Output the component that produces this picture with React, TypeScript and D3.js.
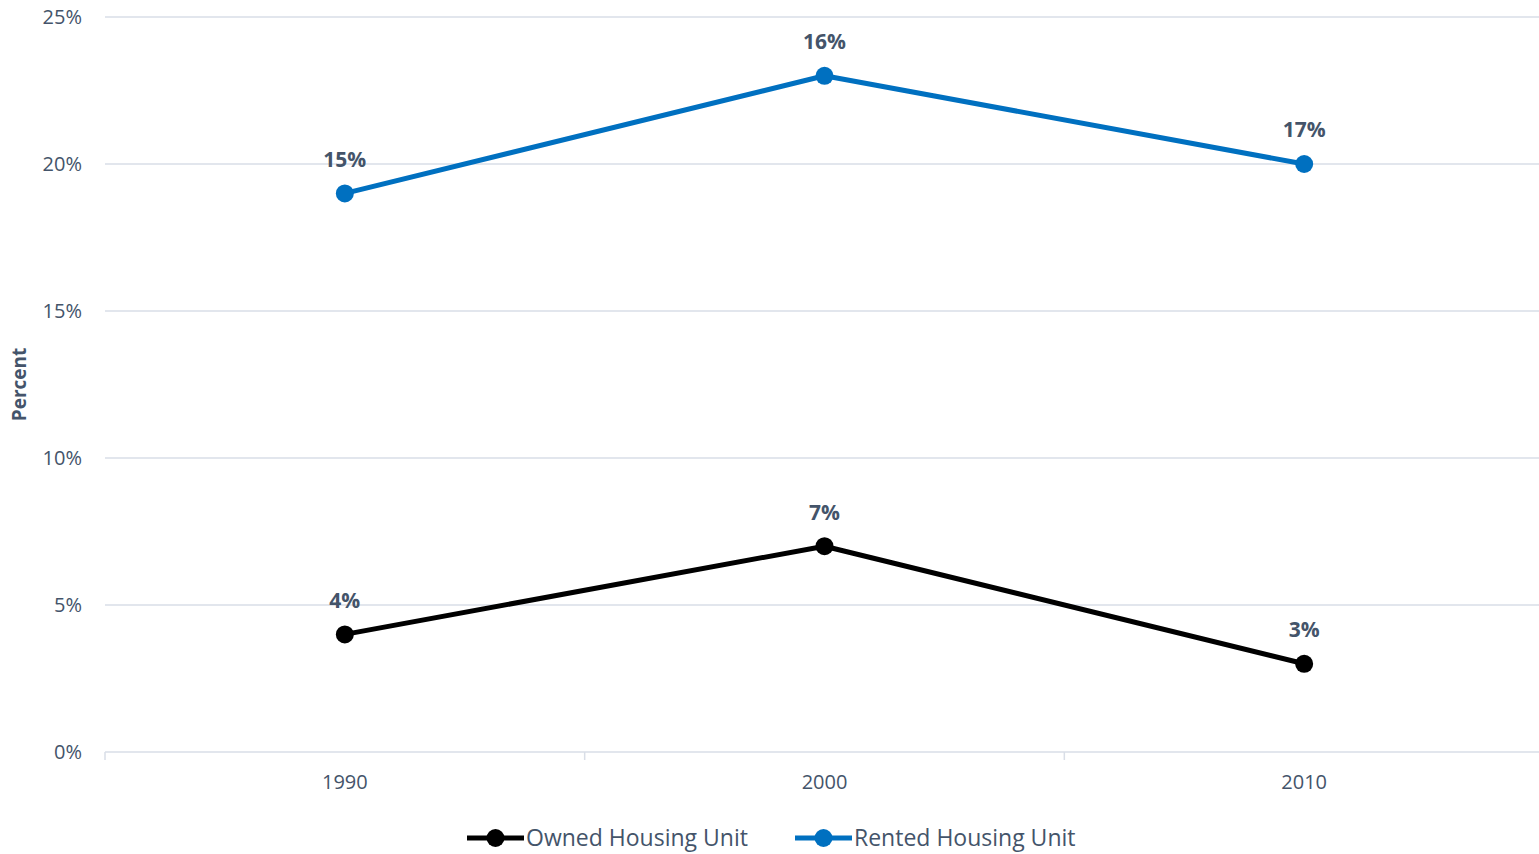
import { useEffect, useRef } from 'react'
import * as d3 from 'd3'

const years = ['1990', '2000', '2010']
const ownedValues = [4, 7, 3]
const ownedLabels = ['4%', '7%', '3%']
const rentedValues = [19, 23, 20]
const rentedLabels = ['15%', '16%', '17%']
const yTicks = [0, 5, 10, 15, 20, 25]

const TEXT = '#44546A'
const GRID = '#D9DEE7'
const FONT = '"Open Sans", "Noto Sans", sans-serif'

const series = [
  { name: 'Owned Housing Unit', values: ownedValues, labels: ownedLabels, color: '#000000' },
  { name: 'Rented Housing Unit', values: rentedValues, labels: rentedLabels, color: '#0070C0' },
]

export default function App() {
  const ref = useRef<SVGSVGElement>(null)

  useEffect(() => {
    if (!ref.current) return
    const svg = d3.select(ref.current)
    svg.selectAll('*').remove()

    const width = 1539
    const height = 854
    const margin = { top: 17, right: -5, bottom: 102, left: 105 }

    const x = d3.scaleBand<string>()
      .domain(years)
      .range([margin.left, width - margin.right])
      .padding(0)

    const y = d3.scaleLinear()
      .domain([0, 25])
      .range([height - margin.bottom, margin.top])

    // gridlines
    svg.append('g')
      .selectAll('line')
      .data(yTicks.filter(d => d > 0))
      .enter()
      .append('line')
      .attr('x1', margin.left)
      .attr('x2', width)
      .attr('y1', d => y(d))
      .attr('y2', d => y(d))
      .attr('stroke', GRID)
      .attr('stroke-width', 1.5)

    // y tick labels
    svg.append('g')
      .selectAll('text')
      .data(yTicks)
      .enter()
      .append('text')
      .attr('x', 82)
      .attr('y', d => y(d))
      .attr('dy', '0.35em')
      .attr('text-anchor', 'end')
      .attr('fill', TEXT)
      .attr('font-family', FONT)
      .attr('font-size', 20)
      .text(d => `${d}%`)

    // y axis title
    svg.append('text')
      .attr('transform', `translate(26,${(y(0) + y(25)) / 2}) rotate(-90)`)
      .attr('text-anchor', 'middle')
      .attr('fill', TEXT)
      .attr('font-family', FONT)
      .attr('font-weight', 'bold')
      .attr('font-size', 19)
      .text('Percent')

    // x axis
    const axis = svg.append('g')
      .attr('transform', `translate(0,${y(0)})`)
      .call(d3.axisBottom(x).tickSize(0).tickPadding(23))
    axis.select('.domain').remove()
    axis.selectAll('text')
      .attr('fill', TEXT)
      .attr('font-family', FONT)
      .attr('font-size', 20)

    svg.append('line')
      .attr('x1', margin.left)
      .attr('x2', width)
      .attr('y1', y(0))
      .attr('y2', y(0))
      .attr('stroke', GRID)
      .attr('stroke-width', 1.5)

    svg.append('g')
      .selectAll('line')
      .data(years)
      .enter()
      .append('line')
      .attr('x1', d => x(d)!)
      .attr('x2', d => x(d)!)
      .attr('y1', y(0))
      .attr('y2', y(0) + 8)
      .attr('stroke', GRID)
      .attr('stroke-width', 1.5)

    const cx = (d: string) => x(d)! + x.bandwidth() / 2

    series.forEach(s => {
      const line = d3.line<number>()
        .x((d, i) => cx(years[i]))
        .y(d => y(d))

      svg.append('path')
        .datum(s.values)
        .attr('d', line)
        .attr('fill', 'none')
        .attr('stroke', s.color)
        .attr('stroke-width', 5)
        .attr('stroke-linejoin', 'round')

      svg.append('g')
        .selectAll('circle')
        .data(s.values)
        .enter()
        .append('circle')
        .attr('cx', (d, i) => cx(years[i]))
        .attr('cy', d => y(d))
        .attr('r', 9)
        .attr('fill', s.color)

      svg.append('g')
        .selectAll('text')
        .data(s.values)
        .enter()
        .append('text')
        .attr('x', (d, i) => cx(years[i]))
        .attr('y', d => y(d) - 34)
        .attr('dy', '0.35em')
        .attr('text-anchor', 'middle')
        .attr('fill', TEXT)
        .attr('font-family', FONT)
        .attr('font-weight', 'bold')
        .attr('font-size', 21)
        .text((d, i) => s.labels[i])
    })

    // legend
    const legendX = [467, 795]
    series.forEach((s, i) => {
      const g = svg.append('g').attr('transform', `translate(${legendX[i]},838)`)
      g.append('line')
        .attr('x1', 0)
        .attr('x2', 57)
        .attr('stroke', s.color)
        .attr('stroke-width', 5)
      g.append('circle')
        .attr('cx', 28.5)
        .attr('r', 9)
        .attr('fill', s.color)
      g.append('text')
        .attr('x', 59)
        .attr('dy', '0.35em')
        .attr('fill', TEXT)
        .attr('font-family', FONT)
        .attr('font-size', 23)
        .text(s.name)
    })
  }, [])

  return (
    <svg
      ref={ref}
      width={1539}
      height={854}
      style={{ position: 'absolute', left: 0, top: 0, background: '#fff' }}
    />
  )
}
